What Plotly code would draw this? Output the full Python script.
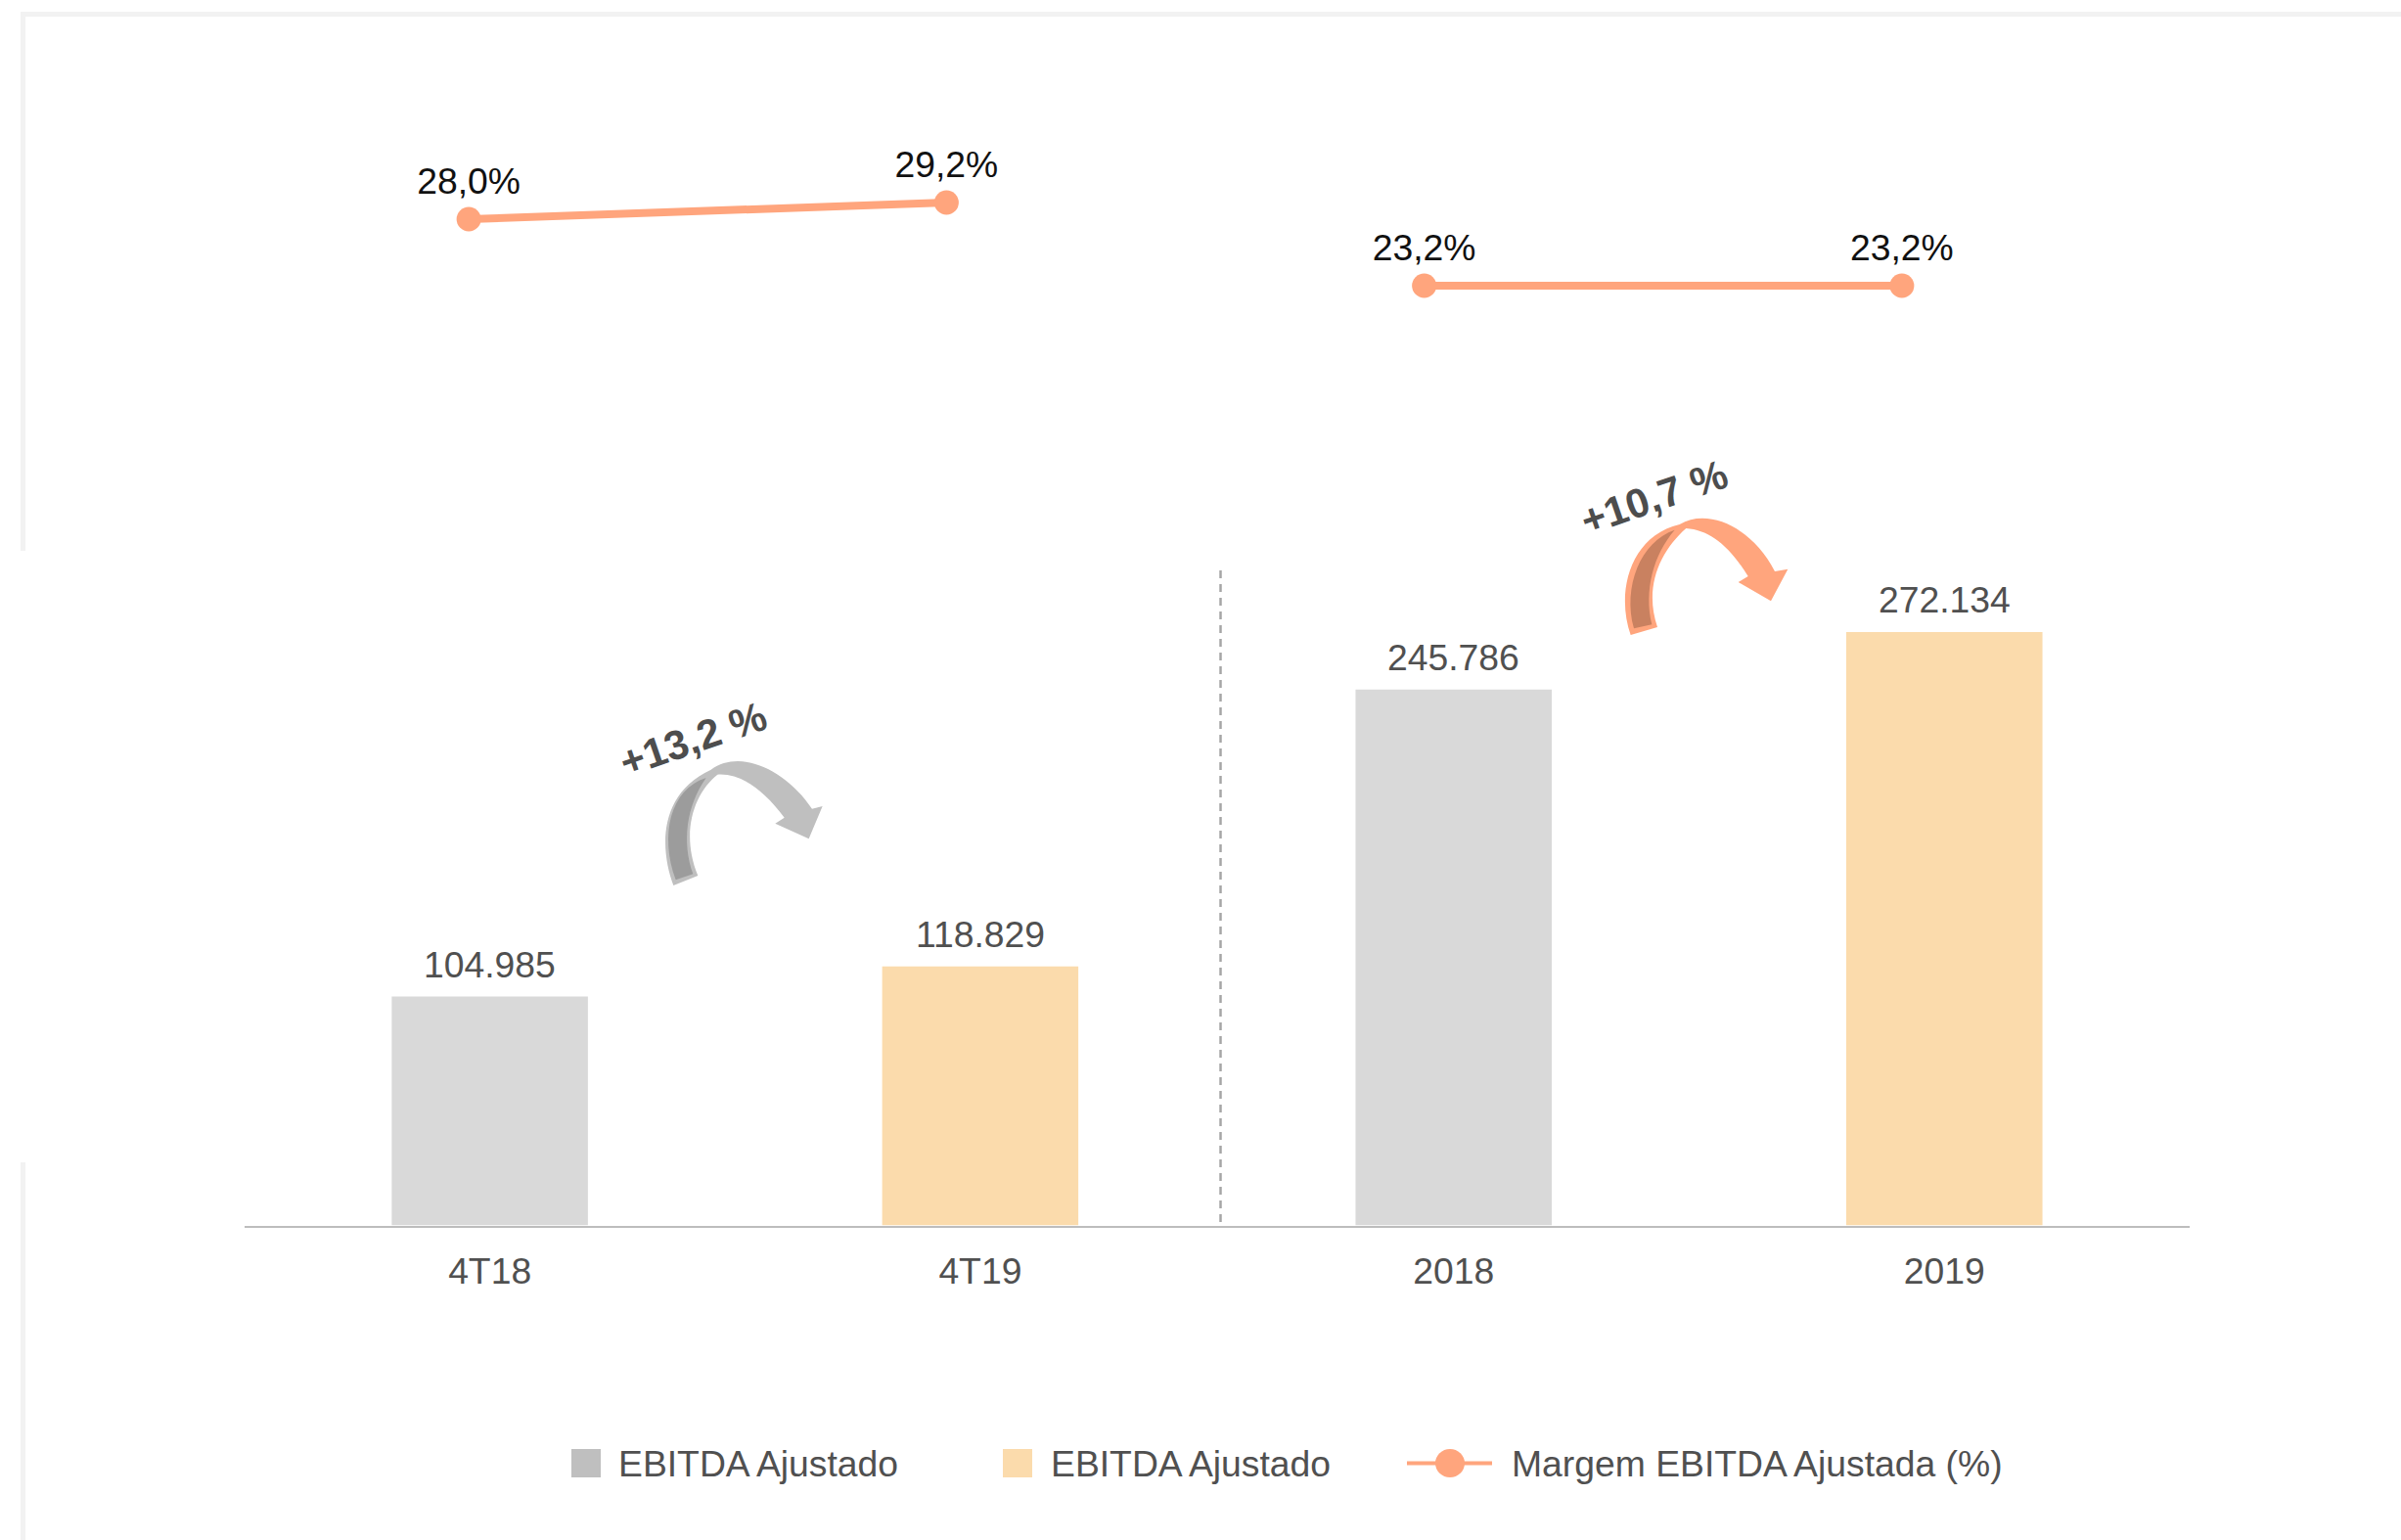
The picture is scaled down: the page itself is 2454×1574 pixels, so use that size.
import plotly.graph_objects as go

W, H = 2454, 1574

# ---------- data ----------
cat_q = ["4T18", "4T19"]
cat_y = ["2018", "2019"]
ebitda_q = [104985, 118829]
ebitda_y = [245786, 272134]
labels_q = ["104.985", "118.829"]
labels_y = ["245.786", "272.134"]
margin_q = [28.0, 29.2]
margin_y = [23.2, 23.2]
margin_q_lab = ["28,0%", "29,2%"]
margin_y_lab = ["23,2%", "23,2%"]
legend_names = ["EBITDA Ajustado", "EBITDA Ajustado", "Margem EBITDA Ajustada (%)"]
growth_labels = ["+13,2 %", "+10,7 %"]

# ---------- styles ----------
GREY, GREY_D, BEIGE, ORANGE, ORANGE_D = "#D9D9D9", "#BFBFBF", "#FBDBAC", "#FFA57D", "#C98160"
TXT = "#505050"
FONT = "Liberation Sans, Arial, sans-serif"
FS = 37.3


def px(x):
    return x / W


def py(y):
    return 1 - y / H


def path(cmds, ox=0, oy=0, k=1.0):
    """cmds: list of (letter, [x, y, ...]) in picture pixels -> paper path."""
    out = []
    for c, pts in cmds:
        vals = []
        for i in range(0, len(pts), 2):
            vals.append(f"{px(ox + pts[i] / k):.5f},{py(oy + pts[i + 1] / k):.5f}")
        out.append(c + " ".join(vals))
    return " ".join(out) + " Z"


fig = go.Figure()

fig.add_bar(x=cat_q, y=ebitda_q, marker=dict(color=[GREY, BEIGE], line_width=0),
            name=legend_names[0], xaxis="x", yaxis="y", showlegend=False)
fig.add_bar(x=cat_y, y=ebitda_y, marker=dict(color=[GREY, BEIGE], line_width=0),
            name=legend_names[1], xaxis="x2", yaxis="y", showlegend=False)

for xs, ys, lab in ((cat_q, margin_q, margin_q_lab), (cat_y, margin_y, margin_y_lab)):
    fig.add_scatter(x=xs, y=ys, mode="lines+markers+text", text=lab, textposition="top center",
                    line=dict(color=ORANGE, width=8), marker=dict(color=ORANGE, size=25),
                    textfont=dict(size=FS, color="#111111", family=FONT),
                    name=legend_names[2], xaxis="x3", yaxis="y3", cliponaxis=False, showlegend=False)

axis_common = dict(type="category", showgrid=False, zeroline=False, showline=True,
                   linecolor="#BDBDBD", linewidth=2, ticks="outside", ticklen=13,
                   tickcolor="rgba(0,0,0,0)", tickfont=dict(size=FS, color=TXT, family=FONT),
                   anchor="y", range=[-0.5, 1.5])

shapes = []


def rect(x0, y0, x1, y1, color):
    shapes.append(dict(type="rect", xref="paper", yref="paper", x0=px(x0), x1=px(x1),
                       y0=py(y0), y1=py(y1), fillcolor=color, line_width=0, layer="below"))


# frame fragments
FRAME = "#F2F2F2"
rect(21, 12, W, 17, FRAME)
rect(21, 12, 26, 563, FRAME)
rect(21, 1188, 26, H, FRAME)

# divider
shapes.append(dict(type="line", xref="paper", yref="paper", x0=px(1247.5), x1=px(1247.5),
                   y0=py(583), y1=py(1252), line=dict(color="#A6A6A6", width=2.5, dash="8px,6px")))

arrow_outer_1 = [("M", [265, 675]), ("C", [225, 570, 215, 395, 380, 320]),
                 ("C", [470, 255, 610, 320, 690, 440]), ("L", [722, 432]), ("L", [680, 532]),
                 ("L", [577, 485]), ("L", [605, 467]),
                 ("C", [540, 380, 470, 330, 400, 335]), ("C", [330, 390, 285, 510, 340, 645])]
arrow_inner_1 = [("M", [272, 658]), ("L", [325, 640]), ("C", [290, 540, 305, 430, 365, 345]),
                 ("C", [255, 380, 222, 520, 272, 658])]
arrow_outer_2 = [("M", [230, 627]), ("C", [185, 500, 225, 325, 380, 288]),
                 ("C", [470, 235, 605, 300, 672, 432]), ("L", [712, 425]), ("L", [660, 523]),
                 ("L", [560, 465]), ("L", [590, 447]),
                 ("C", [530, 350, 470, 305, 400, 300]), ("C", [320, 370, 270, 480, 312, 603])]
arrow_inner_2 = [("M", [240, 607]), ("L", [295, 595]), ("C", [270, 490, 300, 380, 365, 305]),
                 ("C", [260, 340, 205, 480, 240, 607])]

for outer, inner, col, dark, ox, oy in (
    (arrow_outer_1, arrow_inner_1, GREY_D, "#9C9C9C", 600, 680),
    (arrow_outer_2, arrow_inner_2, ORANGE, ORANGE_D, 1590, 440),
):
    for cmds, c in ((outer, col), (inner, dark)):
        shapes.append(dict(type="path", xref="paper", yref="paper", path=path(cmds, ox, oy, 3.0),
                           fillcolor=c, line_width=0))

# legend swatches
rect(584, 1481, 614, 1510, GREY_D)
rect(1025, 1481, 1055, 1510, BEIGE)
shapes.append(dict(type="line", xref="paper", yref="paper", x0=px(1438), x1=px(1525),
                   y0=py(1495.5), y1=py(1495.5), line=dict(color=ORANGE, width=4)))
shapes.append(dict(type="circle", xref="paper", yref="paper", x0=px(1467), x1=px(1497),
                   y0=py(1481), y1=py(1510), fillcolor=ORANGE, line_width=0))

annotations = []
# bar value labels (category axes position annotations by category index)
for ys, labs, xref in ((ebitda_q, labels_q, "x"), (ebitda_y, labels_y, "x2")):
    for i, (y, lab) in enumerate(zip(ys, labs)):
        annotations.append(dict(text=lab, x=i, y=y, xref=xref, yref="y", xanchor="center",
                                yanchor="bottom", yshift=10, showarrow=False,
                                font=dict(size=FS, color=TXT, family=FONT)))
for name, x in zip(legend_names, (630, 1072, 1543)):
    annotations.append(dict(text=name, xref="paper", yref="paper", x=px(x), y=py(1496),
                            xanchor="left", yanchor="middle", showarrow=False,
                            font=dict(size=FS, color=TXT, family=FONT)))
for lab, (x, y) in zip(growth_labels, ((708, 756), (1690, 508))):
    annotations.append(dict(text=f"<b>{lab}</b>", xref="paper", yref="paper", x=px(x), y=py(y),
                            xanchor="center", yanchor="middle", showarrow=False, textangle=-19,
                            font=dict(size=42, color="#4D4D4D", family=FONT)))

fig.update_layout(
    width=W, height=H, margin=dict(l=0, r=0, t=0, b=0), autosize=False,
    paper_bgcolor="white", plot_bgcolor="rgba(0,0,0,0)", bargap=0.6,
    showlegend=False, shapes=shapes, annotations=annotations,
    xaxis=dict(domain=[px(250), px(1252.5)], **axis_common),
    xaxis2=dict(domain=[px(1235), px(2238)], **axis_common),
    xaxis3=dict(domain=[px(235), px(2188)], type="category", visible=False, anchor="y3",
                categoryorder="array", categoryarray=cat_q + cat_y, range=[-0.5, 3.5]),
    yaxis=dict(domain=[py(1252.5), py(560.5)], range=[0, 310500], visible=False),
    yaxis3=dict(domain=[py(400), py(100)], range=[15.58, 36.75], visible=False, anchor="x3"),
)

fig.write_html("out.html", config=dict(displayModeBar=False),
               post_script="document.body.style.margin='0';document.documentElement.style.overflow='hidden';")
